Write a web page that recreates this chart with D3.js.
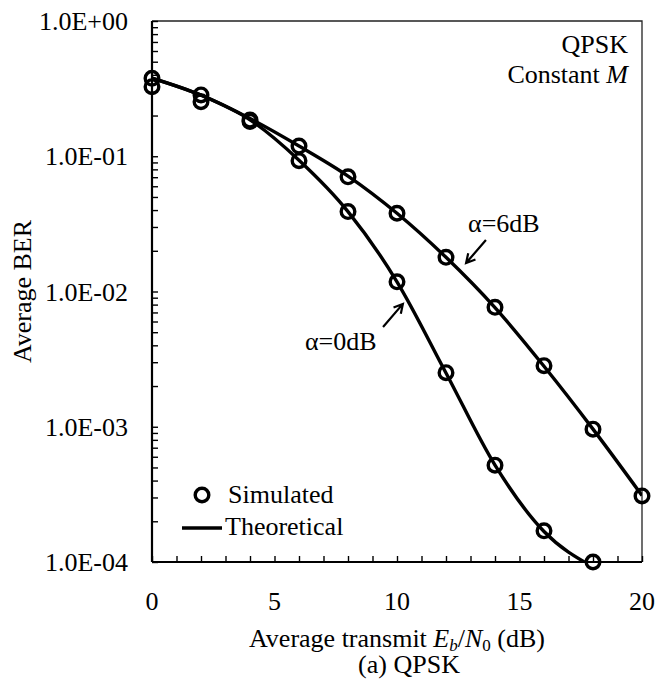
<!DOCTYPE html>
<html>
<head>
<meta charset="utf-8">
<script src="https://cdn.jsdelivr.net/npm/d3@7"></script>
<style>
  body { margin: 0; background: #fff; }
  svg { display: block; }
  text { font-family: "Liberation Serif", "Times New Roman", serif; fill: #000; }
</style>
</head>
<body>
<svg id="chart" width="656" height="687"></svg>
<script>
// x values (dB)
var snr0 = [0, 2, 4, 6, 8, 10, 12, 14, 16, 18];
var snr6 = [0, 2, 4, 6, 8, 10, 12, 14, 16, 18, 20];

// alpha = 0 dB
var sim0 = [0.327, 0.253, 0.181, 0.0927, 0.039, 0.0118, 0.00251, 0.00052, 0.00017, 0.0001];
var theo0 = [0.378, 0.283, 0.186, 0.0935, 0.039, 0.0118, 0.0025, 0.00052, 0.000168, 0.000092];

// alpha = 6 dB
var sim6 = [0.377, 0.284, 0.185, 0.119, 0.0705, 0.0379, 0.0179, 0.00764, 0.00283, 0.00096, 0.000308];
var theo6 = [0.378, 0.283, 0.19, 0.119, 0.0714, 0.0379, 0.0179, 0.0076, 0.0028, 0.00096, 0.00031];

var xTicks = [0, 5, 10, 15, 20];
var yTicks = [1, 1e-1, 1e-2, 1e-3, 1e-4];

(function () {
var svg = d3.select("#chart");
var pl = 152, pr = 642, pt = 21, pb = 562;

var x = d3.scaleLinear().domain([0, 20]).range([pl, pr]);
var y = d3.scaleLog().domain([1e-4, 1]).range([pb, pt]);

// clip for the theory lines
svg.append("clipPath").attr("id", "plotclip")
  .append("rect").attr("x", pl).attr("y", pt)
  .attr("width", pr - pl).attr("height", pb - pt);

// frame: thin top/right
svg.append("path")
  .attr("d", "M" + pl + "," + pt + "H" + pr + "V" + pb)
  .attr("fill", "none").attr("stroke", "#222").attr("stroke-width", 1.3);

// y axis
var yMinor = [];
for (var e = -4; e < 0; e++) {
  for (var m = 2; m <= 9; m++) yMinor.push(m * Math.pow(10, e));
}
var yAxis = svg.append("g").attr("transform", "translate(" + pl + ",0)")
  .call(d3.axisRight(y).tickValues(yTicks.concat(yMinor)).tickSize(6).tickFormat(""));
yAxis.select(".domain").attr("stroke-width", 2.2).attr("d", "M0," + pt + "V" + pb);
yAxis.selectAll(".tick line").attr("stroke-width", 1.4);

svg.append("g").selectAll("text").data(yTicks).join("text")
  .attr("x", pl - 24).attr("y", function (d) { return y(d); })
  .attr("dy", "0.35em").attr("text-anchor", "end")
  .style("font-size", "26px")
  .text(function (d) { return d.toExponential(1).toUpperCase().replace(/E([+-])(\d)$/, "E$10$2"); });

// x axis
var xAxis = svg.append("g").attr("transform", "translate(0," + pb + ")")
  .call(d3.axisTop(x).ticks(20).tickSize(6).tickFormat(""));
xAxis.select(".domain").attr("stroke-width", 2.2).attr("d", "M" + pl + ",0H" + pr);
xAxis.selectAll(".tick line").attr("stroke-width", 1.4);

svg.append("g").selectAll("text").data(xTicks).join("text")
  .attr("x", function (d) { return x(d); }).attr("y", 610)
  .attr("text-anchor", "middle").style("font-size", "26px")
  .text(function (d) { return d; });

// axis titles
var xt = svg.append("text").attr("x", (pl + pr) / 2).attr("y", 647)
  .attr("text-anchor", "middle").style("font-size", "26px");
xt.append("tspan").text("Average transmit ");
xt.append("tspan").style("font-style", "italic").text("E");
xt.append("tspan").style("font-style", "italic").style("font-size", "17px").attr("dy", 4).text("b");
xt.append("tspan").attr("dy", -4).text("/");
xt.append("tspan").style("font-style", "italic").text("N");
xt.append("tspan").style("font-size", "17px").attr("dy", 4).text("0");
xt.append("tspan").attr("dy", -4).text(" (dB)");

svg.append("text").attr("x", (pl + pr) / 2 + 12).attr("y", 673)
  .attr("text-anchor", "middle").style("font-size", "26px").text("(a) QPSK");

svg.append("text").attr("transform", "translate(31," + (pt + pb) / 2 + ") rotate(-90)")
  .attr("text-anchor", "middle").style("font-size", "26px").text("Average BER");

// theory lines
var line = d3.line()
  .x(function (d) { return x(d[0]); })
  .y(function (d) { return y(d[1]); })
  .curve(d3.curveMonotoneX);

var theory = [d3.zip(snr0, theo0), d3.zip(snr6, theo6)];
svg.append("g").attr("clip-path", "url(#plotclip)")
  .selectAll("path").data(theory).join("path")
  .attr("d", line).attr("fill", "none")
  .attr("stroke", "#000").attr("stroke-width", 3.4);

// simulated markers
var simulated = d3.zip(snr0, sim0).concat(d3.zip(snr6, sim6));
svg.append("g").selectAll("circle").data(simulated).join("circle")
  .attr("cx", function (d) { return x(d[0]); })
  .attr("cy", function (d) { return y(d[1]); })
  .attr("r", 6.8).attr("fill", "none")
  .attr("stroke", "#000").attr("stroke-width", 3.4);

// annotations
svg.append("text").attr("x", 628).attr("y", 53).attr("text-anchor", "end")
  .style("font-size", "26px").text("QPSK");
var cm = svg.append("text").attr("x", 628).attr("y", 83).attr("text-anchor", "end")
  .style("font-size", "26px");
cm.append("tspan").text("Constant ");
cm.append("tspan").style("font-style", "italic").text("M");

var labels = [
  { text: "\u03b1=6dB", tx: 12.9, ty: 0.0275, from: [13.63, 0.024], to: [12.82, 0.01625] },
  { text: "\u03b1=0dB", tx: 6.24, ty: 0.00369, from: [9.43, 0.00546], to: [10.24, 0.0081] }
];
labels.forEach(function (l) {
  svg.append("text").attr("x", x(l.tx)).attr("y", y(l.ty))
    .style("font-size", "26px").text(l.text);
  var x1 = x(l.from[0]), y1 = y(l.from[1]), x2 = x(l.to[0]), y2 = y(l.to[1]);
  var ang = Math.atan2(y2 - y1, x2 - x1), h = 10, w = 0.5;
  var a1 = [x2 - h * Math.cos(ang - w), y2 - h * Math.sin(ang - w)];
  var a2 = [x2 - h * Math.cos(ang + w), y2 - h * Math.sin(ang + w)];
  svg.append("path")
    .attr("d", "M" + x1 + "," + y1 + "L" + x2 + "," + y2 +
      "M" + a1 + "L" + x2 + "," + y2 + "L" + a2)
    .attr("fill", "none").attr("stroke", "#000").attr("stroke-width", 2.2);
});

// legend
var lg = svg.append("g");
lg.append("circle").attr("cx", 202).attr("cy", 495).attr("r", 6.8)
  .attr("fill", "none").attr("stroke", "#000").attr("stroke-width", 3.4);
lg.append("text").attr("x", 228).attr("y", 503).style("font-size", "26px").text("Simulated");
lg.append("line").attr("x1", 182).attr("x2", 222).attr("y1", 528).attr("y2", 528)
  .attr("stroke", "#000").attr("stroke-width", 3.4);
lg.append("text").attr("x", 225).attr("y", 535).style("font-size", "26px").text("Theoretical");
})();
</script>
</body>
</html>
